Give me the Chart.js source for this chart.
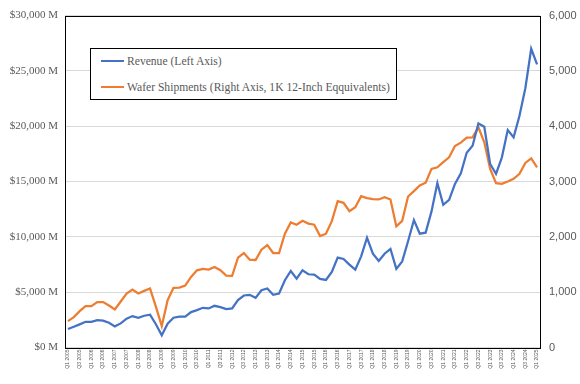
<!DOCTYPE html>
<html>
<head>
<meta charset="utf-8">
<script src="https://cdn.jsdelivr.net/npm/chart.js@4/dist/chart.umd.min.js"></script>
<style>
  body { margin: 0; background: #fff; }
  #wrap { position: relative; width: 580px; height: 384px; }
  #legend {
    position: absolute; left: 90px; top: 48px; width: 305px; height: 50px;
    border: 1px solid #000; background: #fff;
    font-family: "Liberation Serif", serif; font-size: 11.6px; color: #595959;
  }
  .item { position: absolute; left: 10px; height: 14px; line-height: 14px; white-space: nowrap; }
  .item span.swatch { display: inline-block; width: 23px; height: 2px; vertical-align: middle; margin-right: 3px; position: relative; top: -1px; }
</style>
</head>
<body>
<div id="wrap">
  <canvas id="chart" width="580" height="384"></canvas>
  <div id="legend">
    <div class="item" style="top:6px"><span class="swatch" style="background:#4472C4"></span>Revenue (Left Axis)</div>
    <div class="item" style="top:32px"><span class="swatch" style="background:#ED7D31"></span>Wafer Shipments (Right Axis, 1K 12-Inch Eqquivalents)</div>
  </div>
</div>
<script>
// quarters Q1 2005 .. Q1 2025
const years = [2005, 2006, 2007, 2008, 2009, 2010, 2011, 2012, 2013, 2014, 2015, 2016, 2017, 2018, 2019, 2020, 2021, 2022, 2023, 2024, 2025];
const quarters = ["Q1", "Q2", "Q3", "Q4"];
const labels = [];
for (const y of years) {
  for (const q of quarters) {
    if (y === 2025 && q !== "Q1") break;
    labels.push(q + " " + y);
  }
}

// revenue, $M
const revenue = [
  1670, 1870, 2090, 2320, 2320, 2480, 2420, 2240, 1910, 2180,
  2600, 2840, 2690, 2870, 2960, 2100, 1100, 2150, 2690, 2780,
  2780, 3200, 3380, 3590, 3530, 3770, 3650, 3470, 3530, 4280,
  4700, 4760, 4490, 5180, 5330, 4760, 4880, 6080, 6920, 6230,
  6980, 6620, 6590, 6200, 6110, 6830, 8120, 8000, 7490, 7040,
  8240, 9930, 8480, 7820, 8480, 8910, 7110, 7780, 9600, 11520,
  10290, 10380, 12300, 14860, 12900, 13350, 14790, 15750, 17600, 18240,
  20250, 19950, 16590, 15690, 17190, 19660, 18990, 20950, 23440, 27000,
  25600
];

// wafer shipments, 1K 12-inch equivalents
const wafers = [
  477, 550, 658, 748, 748, 820, 820, 760, 688, 832,
  976, 1048, 976, 1024, 1066, 740, 387, 856, 1078, 1084,
  1120, 1276, 1396, 1420, 1408, 1456, 1396, 1300, 1294, 1624,
  1708, 1588, 1582, 1768, 1852, 1708, 1708, 2057, 2261, 2219,
  2290, 2240, 2220, 2015, 2057, 2285, 2645, 2616, 2465, 2537,
  2735, 2700, 2681, 2676, 2715, 2676, 2192, 2290, 2730, 2826,
  2928, 2980, 3229, 3258, 3352, 3438, 3643, 3703, 3793, 3799,
  3979, 3709, 3229, 2970, 2958, 3000, 3049, 3139, 3337, 3420,
  3258
];

const frame = {
  id: "frame",
  afterDraw(chart) {
    const a = chart.chartArea;
    const ctx = chart.ctx;
    ctx.save();
    ctx.strokeStyle = "#000";
    ctx.lineWidth = 1;
    ctx.strokeRect(Math.round(a.left) + 0.5, Math.round(a.top) + 0.5, Math.round(a.right - a.left), Math.round(a.bottom - a.top));
    ctx.restore();
  }
};

new Chart(document.getElementById("chart"), {
  type: "line",
  data: {
    labels: labels,
    datasets: [
      {
        label: "Revenue (Left Axis)",
        data: revenue,
        borderColor: "#4472C4",
        backgroundColor: "#4472C4",
        borderWidth: 2.25,
        pointRadius: 0,
        tension: 0,
        yAxisID: "y"
      },
      {
        label: "Wafer Shipments (Right Axis, 1K 12-Inch Eqquivalents)",
        data: wafers,
        borderColor: "#ED7D31",
        backgroundColor: "#ED7D31",
        borderWidth: 2.25,
        pointRadius: 0,
        tension: 0,
        yAxisID: "y1"
      }
    ]
  },
  options: {
    responsive: false,
    animation: false,
    layout: { padding: { top: 14 } },
    plugins: { legend: { display: false }, tooltip: { enabled: false } },
    scales: {
      x: {
        offset: true,
        grid: { display: false, drawTicks: false },
        border: { display: false },
        ticks: {
          autoSkip: false,
          maxRotation: 90,
          minRotation: 90,
          padding: 2,
          color: "#595959",
          font: { family: "Liberation Sans", size: 5 },
          callback: function (v, i) { return i % 2 === 0 ? this.getLabelForValue(v) : ""; }
        },
        afterFit(s) { s.height = 36.5; }
      },
      y: {
        position: "left",
        min: 0,
        max: 30000,
        grid: { color: "#d9d9d9", drawTicks: false },
        border: { display: false },
        ticks: {
          stepSize: 5000,
          padding: 7,
          color: "#595959",
          font: { family: "Liberation Serif", size: 11 },
          callback: (v) => "$" + v.toLocaleString("en-US") + " M"
        },
        afterFit(s) { s.width = 65; }
      },
      y1: {
        position: "right",
        min: 0,
        max: 6000,
        grid: { display: false, drawTicks: false },
        border: { display: false },
        ticks: {
          stepSize: 1000,
          padding: 9,
          color: "#595959",
          font: { family: "Liberation Sans", size: 11 },
          callback: (v) => v.toLocaleString("en-US")
        },
        afterFit(s) { s.width = 40; }
      }
    }
  },
  plugins: [frame]
});
</script>
</body>
</html>
